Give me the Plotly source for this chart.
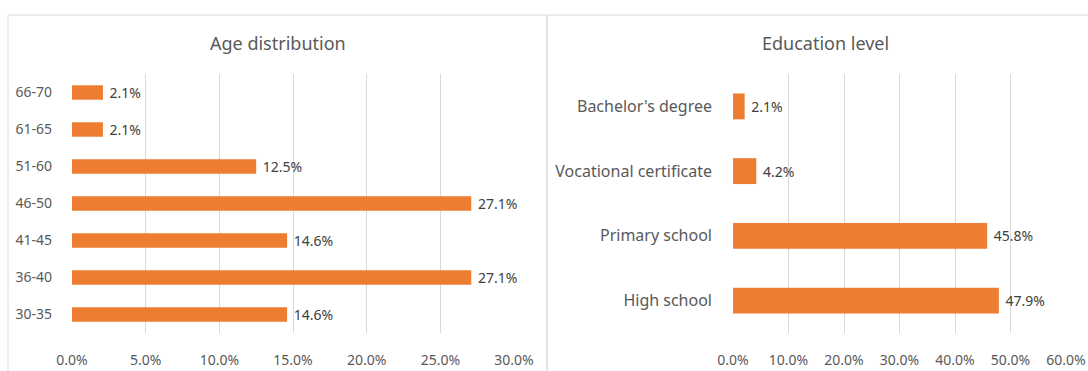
import plotly.graph_objects as go

W, H = 1088, 371

age_groups = ["30-35", "36-40", "41-45", "46-50", "51-60", "61-65", "66-70"]
age_pct = [14.6, 27.1, 14.6, 27.1, 12.5, 2.1, 2.1]

edu_levels = ["High school", "Primary school", "Vocational certificate", "Bachelor's degree"]
edu_pct = [47.9, 45.8, 4.2, 2.1]

age_ticks = [0, 5, 10, 15, 20, 25, 30]
edu_ticks = [0, 10, 20, 30, 40, 50, 60]

BAR = "#ED7D31"
TXT = "#595959"
GRID = "#D9D9D9"
FONT = "Noto Sans"
NB = "\u00a0"

def px_x(p):
    return p / W

def px_y(p):
    return 1 - p / H

fig = go.Figure()

fig.add_trace(go.Bar(
    x=age_pct, y=age_groups, orientation="h",
    marker=dict(color=BAR, line=dict(width=0)),
    width=0.39,
    text=[f"{NB}{v:.1f}%" for v in age_pct], textposition="outside",
    textfont=dict(size=14, color="#404040", family=FONT),
    constraintext="none", cliponaxis=False,
    xaxis="x", yaxis="y", showlegend=False,
))

fig.add_trace(go.Bar(
    x=edu_pct, y=edu_levels, orientation="h",
    marker=dict(color=BAR, line=dict(width=0)),
    width=0.40,
    text=[f"{NB}{v:.1f}%" for v in edu_pct], textposition="outside",
    textfont=dict(size=14, color="#404040", family=FONT),
    constraintext="none", cliponaxis=False,
    xaxis="x2", yaxis="y2", showlegend=False,
))

y_dom = [px_y(333), px_y(74)]

fig.update_layout(
    width=W, height=H,
    margin=dict(l=0, r=0, t=0, b=0, autoexpand=False),
    paper_bgcolor="white", plot_bgcolor="white",
    font=dict(family=FONT, color=TXT),
    xaxis=dict(
        domain=[px_x(72), px_x(514)], range=[0, 30], anchor="y", automargin=False,
        tickvals=age_ticks, ticktext=[f"{t:.1f}%" for t in age_ticks],
        showgrid=True, gridcolor=GRID, gridwidth=1,
        zeroline=False, showline=False, ticks="",
        tickfont=dict(size=14, color=TXT), ticklabelstandoff=17,
        fixedrange=True,
    ),
    yaxis=dict(
        domain=y_dom, anchor="x", type="category", automargin=False,
        categoryorder="array", categoryarray=age_groups,
        showgrid=False, zeroline=False, showline=False, ticks="",
        tickfont=dict(size=14, color=TXT), ticklabelstandoff=19,
    ),
    xaxis2=dict(
        domain=[px_x(733), px_x(1066)], range=[0, 60], anchor="y2", automargin=False,
        tickvals=edu_ticks, ticktext=[f"{t:.1f}%" for t in edu_ticks],
        showgrid=True, gridcolor=GRID, gridwidth=1,
        zeroline=False, showline=False, ticks="",
        tickfont=dict(size=14, color=TXT), ticklabelstandoff=17,
        fixedrange=True,
    ),
    yaxis2=dict(
        domain=y_dom, anchor="x2", type="category", automargin=False,
        categoryorder="array", categoryarray=edu_levels,
        showgrid=False, zeroline=False, showline=False, ticks="",
        tickfont=dict(size=16, color=TXT), ticklabelstandoff=20,
    ),
    annotations=[
        dict(text="Age distribution", x=px_x(278), y=px_y(43), xref="paper", yref="paper",
             xanchor="center", yanchor="middle", showarrow=False,
             font=dict(size=18, color=TXT, family=FONT)),
        dict(text="Education level", x=px_x(825), y=px_y(43), xref="paper", yref="paper",
             xanchor="center", yanchor="middle", showarrow=False,
             font=dict(size=18, color=TXT, family=FONT)),
    ],
    shapes=[
        dict(type="rect", xref="paper", yref="paper",
             x0=px_x(8), x1=px_x(547), y0=px_y(380), y1=px_y(15),
             line=dict(color=GRID, width=1), fillcolor="rgba(0,0,0,0)", layer="below"),
        dict(type="rect", xref="paper", yref="paper",
             x0=px_x(547), x1=px_x(1100), y0=px_y(380), y1=px_y(15),
             line=dict(color=GRID, width=1), fillcolor="rgba(0,0,0,0)", layer="below"),
    ],
)

fig.write_html("out.html")
